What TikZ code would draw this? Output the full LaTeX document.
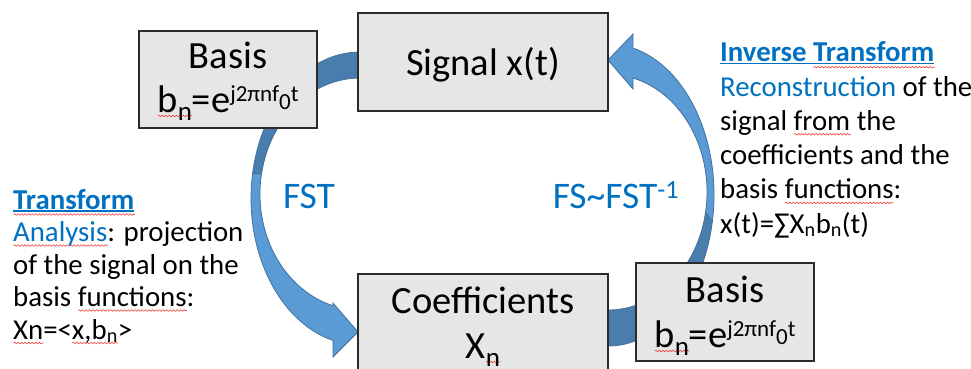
\documentclass[tikz,border=0pt]{standalone}
\usepackage{fontspec}
\setmainfont{Carlito}
\usetikzlibrary{decorations.pathmorphing}

\definecolor{boxfill}{HTML}{E7E6E6}
\definecolor{boxline}{HTML}{2B2B2B}
\definecolor{linkblue}{HTML}{0070C0}
\definecolor{spellred}{HTML}{F03C3C}
\definecolor{arrowfill}{HTML}{5B9BD5}
\definecolor{arrowdark}{HTML}{497DAE}
\definecolor{arrowedge}{HTML}{41719C}

\tikzset{squiggle/.style={draw=spellred,line width=.6pt,decorate,
    decoration={snake,amplitude=.8pt,segment length=3.5pt}}}

\newsavebox\spellbox
\newcommand\spell[1]{\sbox\spellbox{#1}%
  \rlap{\tikz[baseline=0pt]\path[squiggle] (0pt,-4pt) -- (\wd\spellbox,-4pt);}\usebox\spellbox}
\newcommand\linkul[1]{\sbox\spellbox{#1}%
  \rlap{\textcolor{linkblue}{\rule[-2.6pt]{\wd\spellbox}{1.4pt}}}\usebox\spellbox}
\newcommand\linkspell[1]{\sbox\spellbox{#1}%
  \rlap{\tikz[baseline=0pt]\path[squiggle] (0pt,-5.5pt) -- (\wd\spellbox,-5.5pt);}%
  \rlap{\textcolor{linkblue}{\rule[-2.6pt]{\wd\spellbox}{1.4pt}}}\usebox\spellbox}
\newcommand\boxsub[1]{\raisebox{-8pt}{\fontsize{27}{27}\selectfont #1}}
\newcommand\bexp{e\raisebox{11pt}{\fontsize{23}{23}\selectfont j2πnf\raisebox{-8pt}{0}t}}

\begin{document}
\begin{tikzpicture}[x=1pt,y=1pt,
    box/.style={draw=boxline,fill=boxfill,line width=1.3pt,inner sep=0pt},
    boxtext/.style={font=\fontsize{38.5}{44}\selectfont,anchor=base,inner sep=0pt},
    note/.style={anchor=base west,inner sep=0pt,align=left},
    oplabel/.style={font=\fontsize{37.5}{40}\selectfont,text=linkblue,anchor=base,inner sep=0pt},
    backarrow/.style={fill=arrowdark,draw=arrowedge,line width=.8pt},
    frontarrow/.style={fill=arrowfill,draw=arrowedge,line width=.8pt}]
  \useasboundingbox (0,0) rectangle (971,368);

  % FST
  \path[backarrow] (369.5,315.4)
    arc[start angle=85,end angle=170,x radius=109,y radius=146.5]
    -- (261.5,194.1)
    arc[start angle=170,end angle=85,x radius=100,y radius=116] -- cycle;
  \path[frontarrow] (252.7,194.9)
    arc[start angle=170,end angle=255.7,x radius=109,y radius=146.5]
    -- (333,11) -- (358,36) -- (333,65) -- (332.9,62.3)
    arc[start angle=254.3,end angle=170,x radius=100,y radius=116] -- cycle;

  % FS ~ FST^-1
  \path[backarrow] (589.6,24.3)
    arc[start angle=260,end angle=350,x radius=106,y radius=151.1]
    -- (705.5,155.4)
    arc[start angle=350,end angle=260,x radius=99,y radius=117.9] -- cycle;
  \path[frontarrow] (712.4,146.9)
    arc[start angle=-10,end angle=76.4,x radius=106,y radius=151.1]
    -- (633,334) -- (608,308) -- (633,279) -- (633,290)
    arc[start angle=75.4,end angle=-10,x radius=99,y radius=117.9] -- cycle;

  \node[box,minimum width=178pt,minimum height=97pt] (basisA) at (228,288.5) {};
  \node[box,minimum width=250pt,minimum height=98pt] (sig) at (483,306) {};
  \node[box,minimum width=250pt,minimum height=98pt] (coef) at (483,45) {};
  \node[box,minimum width=178pt,minimum height=98pt] (basisB) at (725,56) {};

  \node[boxtext] (basisAa) at (228,300) {Basis};
  \node[boxtext] (basisAb) at (228,256) {\spell{b\boxsub{n}}=\bexp};
  \node[boxtext] (sigtext) at (483,293) {Signal x(t)};
  \node[boxtext] (coefa) at (483,55) {Coefficients};
  \node[boxtext] (coefb) at (483,10) {X\spell{\boxsub{n}}};
  \node[boxtext] (basisBa) at (725,66) {Basis};
  \node[boxtext] (basisBb) at (725,21) {\spell{b\boxsub{n}}=\bexp};

  \node[oplabel] (fst) at (309,160) {FST};
  \node[oplabel] (fs) at (616,160) {FS\textasciitilde FST\textsuperscript{-1}};

  \node[note,font=\fontsize{28.8}{32.5}\selectfont] (analysis) at (13,29)
    {{\bfseries\color{linkblue}\linkspell{Transform}}\\
     {\color{linkblue}\spell{Analysis}}: projection\\
     of the signal on the\\
     basis \spell{functions}:\\
     \spell{Xn}=<\spell{x,b\textsubscript{n}}>};
  \node[note,font=\fontsize{28.8}{34.3}\selectfont] (synthesis) at (720,134.8)
    {{\bfseries\color{linkblue}\linkul{Inverse }\linkspell{Transform}}\\
     {\color{linkblue}Reconstruction} of the\\
     signal \spell{from} the\\
     coefficients and the\\
     basis \spell{functions}:\\
     x(t)=∑X\textsubscript{n}b\textsubscript{n}(t)};
\end{tikzpicture}
\end{document}
